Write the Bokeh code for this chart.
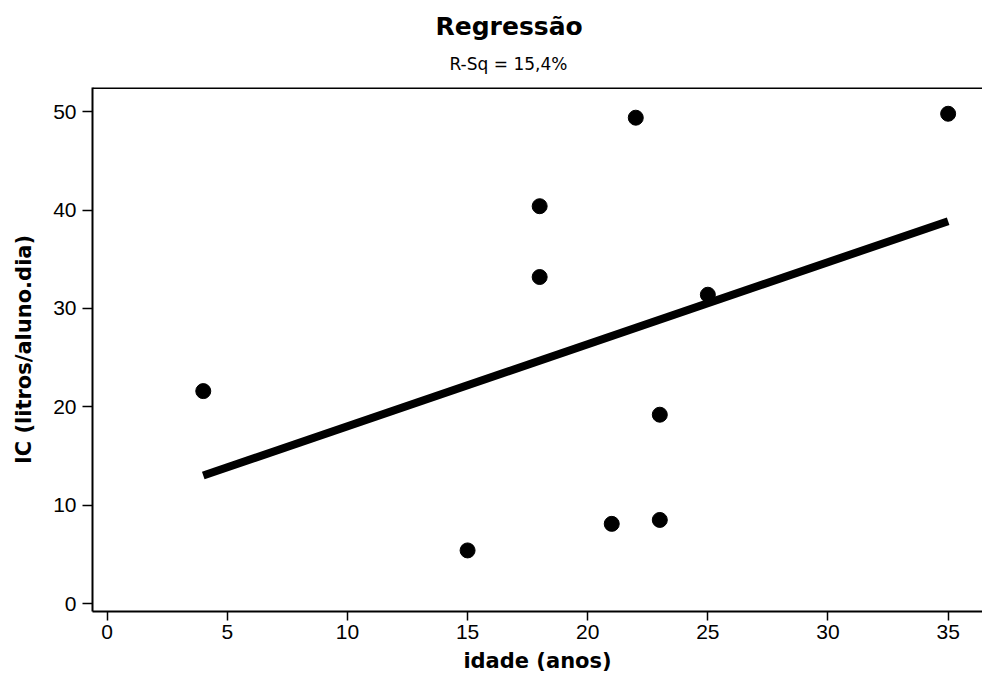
import numpy as np
from bokeh.plotting import figure
from bokeh.models import Range1d, Span, Title, FixedTicker
from bokeh.embed import file_html
from bokeh.resources import INLINE

# ---- data ----
idade = [4, 15, 18, 18, 21, 22, 23, 23, 25, 35]
ic = [21.6, 5.4, 40.4, 33.2, 8.1, 49.4, 8.5, 19.2, 31.4, 49.8]
x_ticks = [0, 5, 10, 15, 20, 25, 30, 35]
y_ticks = [0, 10, 20, 30, 40, 50]
title_text = "Regressão"
subtitle_text = "R-Sq = 15,4%"
x_label = "idade (anos)"
y_label = "IC (litros/aluno.dia)"

# regression fit from the data
b, a = np.polyfit(idade, ic, 1)
fit_x = [min(idade), max(idade)]
fit_y = [a + b * v for v in fit_x]

p = figure(width=982, height=678, title=None,
           x_range=Range1d(-0.61, 36.43), y_range=Range1d(-0.81, 52.47),
           output_backend="svg", toolbar_location=None,
           min_border_left=92, min_border_right=0,
           min_border_top=87, min_border_bottom=67)

p.background_fill_color = "white"
p.border_fill_color = "white"
p.outline_line_color = None
p.xgrid.visible = False
p.ygrid.visible = False

p.line(fit_x, fit_y, line_width=8, line_color="black", line_cap="butt")
p.scatter(idade, ic, size=15, fill_color="black", line_color="black")

# top frame line
p.add_layout(Span(location=p.y_range.end, dimension="width",
                  line_color="black", line_width=3))

for ax, ticks, tout, stand in ((p.xaxis[0], x_ticks, 9, 4), (p.yaxis[0], y_ticks, 10, 6)):
    ax.ticker = FixedTicker(ticks=ticks)
    ax.minor_tick_line_color = None
    ax.major_tick_in = 0
    ax.major_tick_out = tout
    ax.major_tick_line_width = 1.5
    ax.major_tick_line_color = "black"
    ax.axis_line_width = 2
    ax.axis_line_color = "black"
    ax.major_label_standoff = stand
    ax.major_label_text_font = "Liberation Sans"
    ax.major_label_text_font_size = "21px"
    ax.major_label_text_color = "black"
    ax.axis_label_text_font = "DejaVu Sans"
    ax.axis_label_text_font_style = "bold"
    ax.axis_label_text_font_size = "21px"
    ax.axis_label_text_color = "black"

p.xaxis.axis_label = x_label
p.yaxis.axis_label = y_label
p.xaxis.axis_label_standoff = 7
p.yaxis.axis_label_standoff = 14

# subtitle first (closest to the frame), then main title above it
p.add_layout(Title(text=subtitle_text, align="left", offset=357, standoff=28,
                   text_font="DejaVu Sans", text_font_style="normal",
                   text_font_size="17px", text_color="black"), "above")
p.add_layout(Title(text=title_text, align="left", offset=343, standoff=-7,
                   text_font="DejaVu Sans", text_font_style="bold",
                   text_font_size="25px", text_color="black"), "above")

open("out.html", "w").write(file_html(p, INLINE))
